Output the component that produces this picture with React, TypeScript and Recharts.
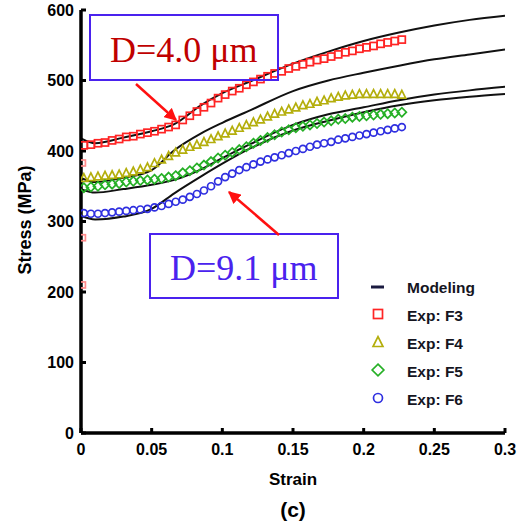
import React from "react";
import {
  ComposedChart,
  Line,
  Scatter,
  XAxis,
  YAxis,
} from "recharts";

// experimental strain points (shared by all four samples)
const expStrain = [
  0.002, 0.007, 0.012, 0.017, 0.022, 0.027, 0.032, 0.037, 0.042, 0.047,
  0.052, 0.057, 0.062, 0.067, 0.072, 0.077, 0.082, 0.087, 0.092, 0.097,
  0.102, 0.107, 0.112, 0.117, 0.122, 0.127, 0.132, 0.137, 0.142, 0.147,
  0.152, 0.157, 0.162, 0.167, 0.172, 0.177, 0.182, 0.187, 0.192, 0.197,
  0.202, 0.207, 0.212, 0.217, 0.222, 0.227,
];

const f3Stress = [
  408, 409, 411, 412, 415, 417, 420, 421, 424, 426,
  428, 431, 434, 437, 444, 450, 456, 462, 468, 475,
  480, 485, 489, 494, 498, 502, 506, 510, 513, 517,
  520, 523, 526, 529, 531, 534, 537, 540, 542, 545,
  547, 549, 552, 554, 556, 558,
];
const f4Stress = [
  362, 363, 364, 365, 366, 367, 369, 371, 374, 377,
  383, 388, 393, 398, 402, 406, 409, 413, 417, 421,
  425, 429, 433, 437, 441, 445, 449, 453, 456, 459,
  462, 465, 467, 470, 472, 475, 477, 479, 480, 481,
  481, 481, 481, 481, 481, 480,
];
const f5Stress = [
  348, 349, 350, 352, 353, 354, 356, 357, 358, 359,
  360, 361, 363, 365, 369, 372, 376, 380, 385, 390,
  394, 398, 402, 406, 411, 415, 419, 423, 427, 430,
  433, 435, 437, 439, 441, 443, 445, 446, 448, 449,
  450, 451, 452, 453, 454, 455,
];
const f6Stress = [
  312, 311, 311, 312, 313, 314, 315, 316, 317, 318,
  320, 322, 325, 328, 331, 335, 339, 344, 350, 357,
  363, 368, 373, 377, 381, 385, 388, 391, 394, 397,
  400, 403, 406, 409, 411, 413, 416, 418, 420, 422,
  424, 426, 428, 430, 432, 434,
];

// stray F3 points on the elastic part
const f3ElasticStrain = [0.001, 0.001, 0.001];
const f3ElasticStress = [383, 277, 210];

// modeling curves
const modelStrain = [0, 0.01, 0.03, 0.05, 0.066, 0.085, 0.1, 0.12, 0.15, 0.175, 0.2, 0.225, 0.25, 0.275, 0.3];
const modelF3 = [418, 411, 419, 428, 438, 465, 482, 499, 524, 541, 556, 568, 578, 586, 592];
const modelF4 = [362, 356, 362, 373, 401, 425, 440, 458, 485, 500, 511, 521, 530, 537, 544];
const modelF5 = [346, 341, 346, 352, 359, 374, 390, 410, 437, 452, 462, 472, 480, 486, 491];
const modelF6 = [308, 303, 307, 318, 340, 364, 382, 404, 429, 443, 455, 465, 472, 477, 481];

const xTicks = [0, 0.05, 0.1, 0.15, 0.2, 0.25, 0.3];
const yTicks = [0, 100, 200, 300, 400, 500, 600];

const legendLabels = ["Modeling", "Exp: F3", "Exp: F4", "Exp: F5", "Exp: F6"];

const RED = "#ff2424";
const OLIVE = "#b4ae0c";
const GREEN = "#26b026";
const BLUE = "#2f2fe0";
const BOX = "#4a22ee";

const sans = "'Liberation Sans', Arial, sans-serif";
const serif = "'Liberation Serif', 'Times New Roman', serif";

const toPoints = (xs: number[], ys: number[]) => xs.map((x, i) => ({ x, y: ys[i] }));

function Marker({ kind, cx, cy, color, s = 3.5 }: { kind: string; cx: number; cy: number; color: string; s?: number }) {
  const common = { fill: "none", stroke: color, strokeWidth: 1.7 };
  if (kind === "square") return <rect x={cx - s} y={cy - s} width={2 * s} height={2 * s} {...common} />;
  if (kind === "triangle")
    return <polygon points={`${cx},${cy - s * 1.2} ${cx - s * 1.1},${cy + s} ${cx + s * 1.1},${cy + s}`} {...common} />;
  if (kind === "diamond")
    return <polygon points={`${cx},${cy - s * 1.3} ${cx + s * 1.3},${cy} ${cx},${cy + s * 1.3} ${cx - s * 1.3},${cy}`} {...common} />;
  return <circle cx={cx} cy={cy} r={s} {...common} />;
}

const expSeries = [
  { name: "F3", data: toPoints(expStrain, f3Stress), color: RED, kind: "square" },
  { name: "F4", data: toPoints(expStrain, f4Stress), color: OLIVE, kind: "triangle" },
  { name: "F5", data: toPoints(expStrain, f5Stress), color: GREEN, kind: "diamond" },
  { name: "F6", data: toPoints(expStrain, f6Stress), color: BLUE, kind: "circle" },
];
const f3Elastic = toPoints(f3ElasticStrain, f3ElasticStress);
const modelSeries = [modelF3, modelF4, modelF5, modelF6].map((ys) => toPoints(modelStrain, ys));

export default function App() {
  const tickStyle = { fill: "#000", fontSize: 16, fontWeight: 700, fontFamily: sans };
  const axisLine = { stroke: "#000", strokeWidth: 3.5 };
  const tickLine = { stroke: "#000", strokeWidth: 3 };

  return (
    <div style={{ position: "absolute", left: 0, top: 0, width: 520, height: 526, background: "#fff" }}>
      <ComposedChart width={520} height={526} margin={{ top: 10, right: 15, bottom: 0, left: 0 }}>
        <XAxis
          dataKey="x"
          type="number"
          domain={[0, 0.3]}
          ticks={xTicks}
          allowDataOverflow
          height={93}
          tickSize={-5}
          tickMargin={16}
          tick={tickStyle}
          axisLine={axisLine}
          tickLine={tickLine}
        />
        <XAxis
          xAxisId="top"
          orientation="top"
          dataKey="x"
          type="number"
          domain={[0, 0.3]}
          ticks={xTicks}
          allowDataOverflow
          height={0}
          tickSize={-5}
          tick={false}
          axisLine={axisLine}
          tickLine={tickLine}
        />
        <YAxis
          dataKey="y"
          type="number"
          domain={[0, 600]}
          ticks={yTicks}
          allowDataOverflow
          width={81}
          tickSize={-5}
          tickMargin={12}
          tick={tickStyle}
          axisLine={axisLine}
          tickLine={tickLine}
        />
        <YAxis
          yAxisId="right"
          orientation="right"
          dataKey="y"
          type="number"
          domain={[0, 600]}
          ticks={yTicks}
          allowDataOverflow
          width={0}
          tickSize={-5}
          tick={false}
          axisLine={axisLine}
          tickLine={tickLine}
        />
        <Scatter
          name="F3 elastic"
          data={f3Elastic}
          dataKey="y"
          isAnimationActive={false}
          shape={(p: any) => <Marker kind="square" cx={p.cx} cy={p.cy} color="#ff8a8a" s={3} />}
        />
        {expSeries.map((s) => (
          <Scatter
            key={s.name}
            name={s.name}
            data={s.data}
            dataKey="y"
            isAnimationActive={false}
            shape={(p: any) => <Marker kind={s.kind} cx={p.cx} cy={p.cy} color={s.color} />}
          />
        ))}
        {modelSeries.map((d, i) => (
          <Line
            key={i}
            data={d}
            dataKey="y"
            type="monotone"
            stroke="#111"
            strokeWidth={2}
            dot={false}
            activeDot={false}
            isAnimationActive={false}
          />
        ))}
      </ComposedChart>

      <svg width={520} height={526} style={{ position: "absolute", left: 0, top: 0, pointerEvents: "none" }}>
        <defs>
          <marker id="arrow" viewBox="0 0 10 10" refX="9" refY="5" markerWidth="5" markerHeight="5" orient="auto">
            <path d="M0,0 L10,5 L0,10 z" fill="#ff1010" />
          </marker>
        </defs>

        <text x={26} y={220} transform="rotate(-90 26 220)" textAnchor="middle" dominantBaseline="middle"
          fontFamily={sans} fontSize={18} fontWeight={700}>Stress (MPa)</text>
        <text x={293} y={485} textAnchor="middle" fontFamily={sans} fontSize={17} fontWeight={700}>Strain</text>
        <text x={293} y={517} textAnchor="middle" fontFamily={sans} fontSize={21} fontWeight={700}>(c)</text>

        {/* annotations */}
        <rect x={90} y={15} width={188} height={65} fill="none" stroke={BOX} strokeWidth={2} />
        <text x={110} y={62} fontFamily={serif} fontSize={36} fill="#c00000">D=4.0 μm</text>
        <line x1={136} y1={84} x2={176} y2={120} stroke="#ff1010" strokeWidth={2.5} markerEnd="url(#arrow)" />

        <rect x={150} y={234} width={188} height={64} fill="none" stroke={BOX} strokeWidth={2} />
        <text x={170} y={280} fontFamily={serif} fontSize={36} fill={BOX}>D=9.1 μm</text>
        <line x1={279} y1={235} x2={229} y2={192} stroke="#ff1010" strokeWidth={2.5} markerEnd="url(#arrow)" />

        {/* legend */}
        <line x1={371} y1={287} x2={384} y2={287} stroke="#1a1a40" strokeWidth={3} />
        {expSeries.map((s, i) => (
          <Marker key={s.name} kind={s.kind} cx={378} cy={314 + i * 28} color={s.color} s={4.5} />
        ))}
        {legendLabels.map((l, i) => (
          <text key={l} x={407} y={287 + i * 28} dominantBaseline="central" fontFamily={sans} fontSize={15.5}
            fontWeight={700} fill="#15151f">{l}</text>
        ))}
      </svg>
    </div>
  );
}
